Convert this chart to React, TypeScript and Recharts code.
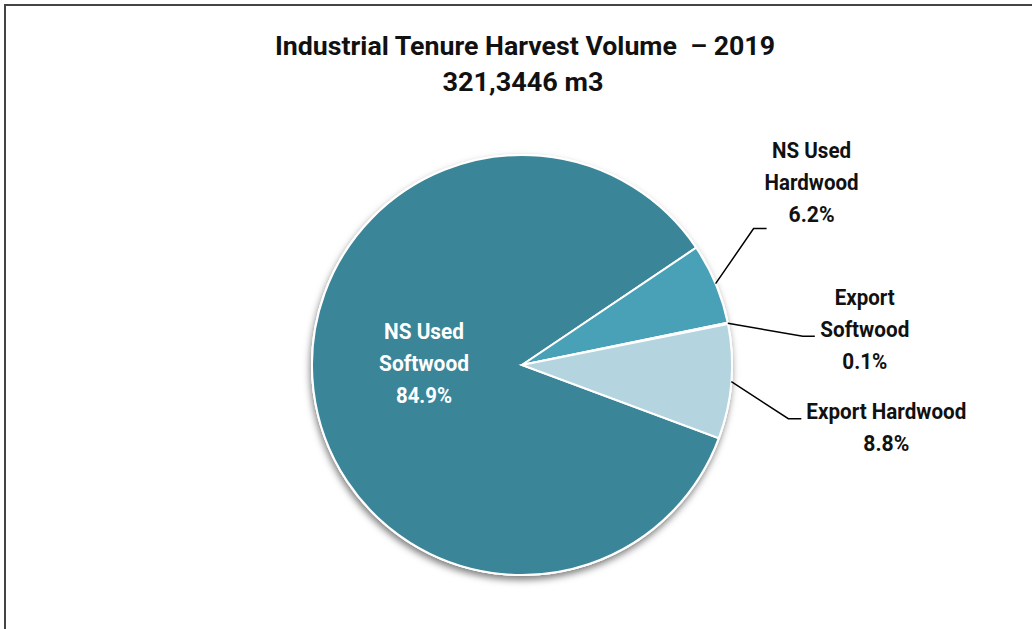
import { PieChart, Pie, Cell } from "recharts";

const categories = ["NS Used Softwood", "NS Used Hardwood", "Export Softwood", "Export Hardwood"];
const labelLines = [
    ["NS Used", "Softwood", "84.9%"],
    ["NS Used", "Hardwood", "6.2%"],
    ["Export", "Softwood", "0.1%"],
    ["Export Hardwood", "8.8%"],
];
const shares = [84.9, 6.2, 0.1, 8.8];

const titleLines = ["Industrial Tenure Harvest Volume  \u2013 2019", "321,3446 m3"];

const data = categories.map((name, i) => ({ name, value: shares[i] }));
const backdrop = [{ name: "all", value: shares.reduce((a, b) => a + b, 0) }];

const colors = ["#3a8598", "#48a1b7", "#2d6f80", "#b4d4df"];

// leader line + text placement relative to the point on the rim
const labelStyle = [
    { inside: true, dx: -98, dy: -26, widths: [80, 90, 56] },
    { elbow: [38, -55], end: 51, tx: 96, ty: -126, widths: [79, 94, 46] },
    { elbow: [75, 13], end: 87, tx: 137, ty: -18, widths: [60, 89, 45] },
    { elbow: [57, 37], end: 70, tx: 155, ty: 37, widths: [160, 46] },
];

const RADIAN = Math.PI / 180;
const FONT = "Roboto, 'Liberation Sans', sans-serif";

function renderLabel(props: any) {
    const { cx, cy, midAngle, outerRadius, index } = props;
    const st: any = labelStyle[index];
    const lines = labelLines[index];
    if (st.inside) {
        return (
            <g>
                {lines.map((t, i) => (
                    <text key={i} x={cx + st.dx} y={cy + st.dy + i * 32} textAnchor="middle"
                        fill="#fff" fontFamily={FONT} fontWeight={700} fontSize={22}
                        textLength={st.widths[i]} lengthAdjust="spacingAndGlyphs">{t}</text>
                ))}
            </g>
        );
    }
    const sx = cx + outerRadius * Math.cos(-midAngle * RADIAN);
    const sy = cy + outerRadius * Math.sin(-midAngle * RADIAN);
    const ex = sx + st.elbow[0];
    const ey = sy + st.elbow[1];
    return (
        <g>
            <polyline points={`${sx},${sy} ${ex},${ey} ${sx + st.end},${ey}`} fill="none" stroke="#000" strokeWidth={1.5} />
            {lines.map((t, i) => (
                <text key={i} x={sx + st.tx} y={sy + st.ty + i * 32} textAnchor="middle"
                    fill="#111" fontFamily={FONT} fontWeight={700} fontSize={22}
                    textLength={st.widths[i]} lengthAdjust="spacingAndGlyphs">{t}</text>
            ))}
        </g>
    );
}

export default function App() {
    return (
        <div style={{ position: "absolute", left: 0, top: 0, width: 1032, height: 629, overflow: "hidden", background: "#fff" }}>
            <div style={{ position: "absolute", left: 0, top: 0 }}>
                <PieChart width={1032} height={629}>
                    <defs>
                        <filter id="pieShadow" x="-20%" y="-20%" width="140%" height="140%">
                            <feDropShadow dx={-1} dy={4} stdDeviation={3.5} floodColor="#000" floodOpacity={0.5} />
                        </filter>
                    </defs>
                    <text x={525} y={55} textAnchor="middle" fontFamily={FONT} fontWeight={700} fontSize={26}
                        fill="#111" textLength={500} lengthAdjust="spacingAndGlyphs" style={{ whiteSpace: "pre" }}>{titleLines[0]}</text>
                    <text x={523} y={91} textAnchor="middle" fontFamily={FONT} fontWeight={700} fontSize={26}
                        fill="#111" textLength={161} lengthAdjust="spacingAndGlyphs">{titleLines[1]}</text>
                    <Pie data={backdrop} dataKey="value" cx={517} cy={360} outerRadius={211}
                        startAngle={0} endAngle={360} fill="#fff" stroke="none"
                        style={{ filter: "url(#pieShadow)" }} isAnimationActive={false} />
                    <Pie data={data} dataKey="value" cx={517} cy={360} outerRadius={210}
                        startAngle={339.6} endAngle={-20.4} stroke="#fff" strokeWidth={2}
                        label={renderLabel} labelLine={false} isAnimationActive={false}>
                        {data.map((d, i) => (
                            <Cell key={d.name} fill={colors[i]} />
                        ))}
                    </Pie>
                </PieChart>
            </div>
            <div style={{ position: "absolute", left: 4, top: 4, width: 1060, height: 660, border: "2px solid #444", pointerEvents: "none" }} />
        </div>
    );
}
